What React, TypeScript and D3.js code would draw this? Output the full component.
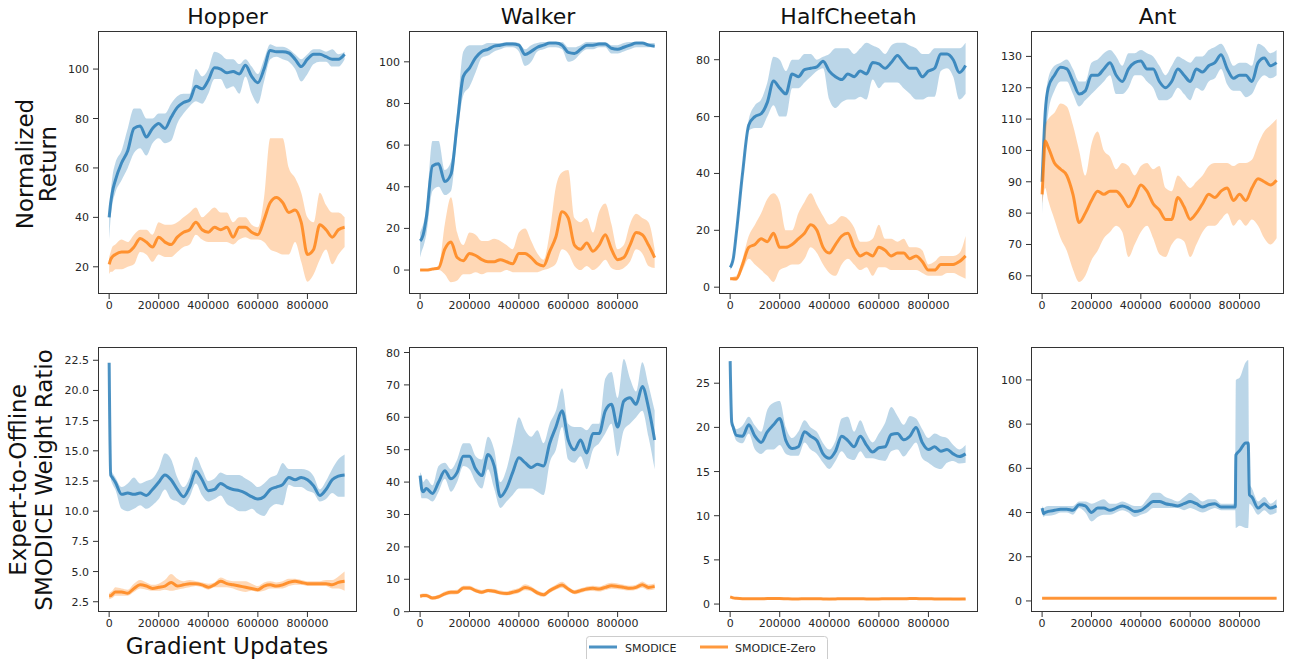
import React from 'react';
import * as d3 from 'd3';

// ---------------- data ----------------
const STEPS = [0, 6250, 12500, 25000, 50000, 75000, 100000, 125000, 150000, 175000,
  200000, 225000, 250000, 275000, 300000, 325000, 350000, 375000, 400000, 425000,
  450000, 475000, 500000, 525000, 550000, 575000, 600000, 625000, 650000, 675000,
  700000, 725000, 750000, 775000, 800000, 825000, 850000, 875000, 900000, 925000, 950000];

const ANT_W_STEPS = [0, 6250, 12500, 25000, 50000, 75000, 100000, 125000, 150000, 175000,
  200000, 225000, 250000, 275000, 300000, 325000, 350000, 375000, 400000, 425000,
  450000, 475000, 500000, 525000, 550000, 575000, 600000, 625000, 650000, 675000,
  700000, 725000, 750000, 775000, 782500, 785000, 800000, 825000, 835000, 840000,
  850000, 875000, 900000, 925000, 950000];

const X_TICKS = [0, 200000, 400000, 600000, 800000];
const TITLES = ['Hopper', 'Walker', 'HalfCheetah', 'Ant'];
const SERIES_NAMES = ['SMODICE', 'SMODICE-Zero'];

// Hopper – normalized return
const HOP_R_SM_MEAN = [40, 46, 50, 55, 62, 67, 76, 77, 72.5, 76, 78, 76, 80.5, 84.5, 86.5, 87.5, 93, 92, 95.5, 100.5, 100, 98.5, 99, 98, 101.5, 97, 94.5, 100, 107.5, 107, 107, 106.5, 104, 101, 104, 106, 106, 105, 104, 104, 106];
const HOP_R_SM_LO = [31, 40, 45, 50, 55, 60, 66, 68, 65, 70, 72, 70, 71, 78, 82, 85, 87, 86, 90, 96, 96, 92, 93, 90, 97, 90, 86, 95, 104, 105, 104, 103, 100, 95, 98, 102, 103, 103, 101, 101, 104];
const HOP_R_SM_HI = [42, 50, 56, 62, 67, 76, 84, 84, 80, 80, 82, 82, 86, 89, 90, 90, 100, 97, 100, 107, 106, 104, 104, 102, 104, 101, 98, 104, 110, 109, 109, 108, 106, 104, 106, 108, 108, 107, 108, 106, 107];
const HOP_R_Z_MEAN = [21, 23, 24, 25, 26, 26, 28, 31.5, 30, 28, 32, 30, 29, 32, 34, 35, 38, 35, 34, 36, 35, 36, 32, 36, 36, 34, 33, 39, 46, 48, 46, 42, 43, 38, 25, 27, 37, 35, 32, 35, 36];
const HOP_R_Z_LO = [17, 18, 18, 19, 19, 20, 21, 26, 25, 22, 25, 24, 24, 26, 28, 29, 33, 31, 30, 30, 30, 30, 29, 31, 32, 31, 31, 30, 27, 26, 25, 25, 30, 22, 14, 17, 23, 27, 21, 25, 28];
const HOP_R_Z_HI = [24, 26, 28, 29, 31, 30, 33, 35, 35, 33, 38, 37, 37, 38, 40, 42, 44, 40, 42, 44, 42, 42, 38, 40, 40, 37, 36, 48, 72, 72, 72, 60, 56, 50, 40, 38, 50, 45, 42, 42, 40];

// Walker – normalized return
const WAL_R_SM_MEAN = [14, 15, 17, 25, 50, 51, 42.5, 46, 70, 93, 97, 102, 105, 106, 107.5, 108, 108.5, 108.5, 108, 103.5, 105, 107, 108, 109, 109, 108, 104.5, 104, 106, 108, 108, 108.5, 108.5, 106.5, 106, 107, 108, 109, 109, 108, 107.5];
const WAL_R_SM_LO = [6, 9, 11, 17, 38, 40, 36, 38, 64, 84, 88, 95, 102, 103, 105, 106, 107, 107, 105, 98, 100, 105, 106, 107, 107, 106, 100, 101, 104, 106, 106, 107, 107, 104, 104, 105, 106, 107, 107, 107, 107];
const WAL_R_SM_HI = [18, 20, 22, 30, 62, 62, 48, 52, 76, 105, 108, 108, 108, 109, 109, 109, 109.5, 109.5, 109, 106, 108, 109, 109.5, 109.5, 109.5, 109.5, 107, 107, 108, 109.5, 109.5, 109.5, 109.5, 108, 108, 109, 109.5, 109.5, 109.5, 109, 109];
const WAL_R_Z_MEAN = [0, 0, 0, 0, 0.5, 1, 10, 13.5, 6, 4.5, 8, 7, 5, 4, 4, 5, 4, 3, 8, 8, 6, 3, 2, 9, 16, 28, 25, 12, 10, 13, 9, 12, 17, 10, 5, 6, 12, 18, 17, 12, 6];
const WAL_R_Z_LO = [-0.5, -0.5, -0.5, -0.5, 0, 0, -2, -5.8, -5, -2, -2, -1, -2, -1, -1, -1, 0, -1, -1, -1, -1, -1, 0, 1, 3, 10, 8, 2, 0, 2, 0, 2, 5, 1, 0, 1, 4, 10, 8, 2, 1];
const WAL_R_Z_HI = [0.5, 0.5, 0.5, 0.5, 1, 2, 22, 35, 18, 12, 18, 17, 14, 14, 15, 14, 12, 10, 18, 20, 14, 8, 5, 18, 40, 47, 48, 25, 23, 25, 18, 28, 32, 22, 10, 12, 22, 27, 25, 23, 10];

// HalfCheetah – normalized return
const HC_R_SM_MEAN = [7, 8, 10, 19, 40, 57, 60, 61, 65, 72.5, 70, 68, 75, 74, 76.5, 77, 77.5, 79.5, 76, 74, 73, 75, 74, 76, 75, 79, 78.5, 77, 79, 81.5, 79, 77, 77, 74, 76, 77, 82, 82, 80, 75.5, 78];
const HC_R_SM_LO = [6, 7, 9, 17, 38, 55, 56, 56, 60, 64, 60, 60, 70, 70, 72, 74, 76, 77, 66, 63, 65, 66, 66, 67, 66, 73, 70, 72, 72, 72, 70, 68, 66, 66, 67, 67, 76, 77, 74, 66, 68];
const HC_R_SM_HI = [8, 9, 11, 21, 42, 59, 64, 66, 72, 81, 80, 76, 80, 80, 82, 82, 80, 81, 82, 84, 84, 84, 82, 84, 86, 85, 84, 82, 85, 86, 86, 85, 84, 82, 82, 84, 84, 84, 84, 84, 86];
const HC_R_Z_MEAN = [3, 3, 3, 3, 8, 14, 15, 17, 16, 19, 14, 14, 15, 17, 19, 22, 20, 14, 12, 15, 18, 19, 14, 11, 12, 11, 14, 13, 11, 12, 12, 10, 11, 9, 6, 6, 8, 8, 8, 9, 11];
const HC_R_Z_LO = [2.5, 2.5, 2.3, 2.2, 6, 10, 8, 6, 4, 1.8, 6, 7, 8, 8, 10, 14, 12, 8, 5, 4, 8, 10, 8, 6, 7, 4, 7, 7, 6, 6, 6, 6, 6, 5, 4, 4, 4, 5, 5, 4, 3];
const HC_R_Z_HI = [3.5, 3.5, 3.7, 4, 10, 18, 22, 26, 31, 33, 30, 20, 20, 26, 30, 33, 29, 25, 22, 23, 25, 24, 21, 16, 16, 17, 22, 17, 17, 16, 17, 14, 14, 13, 8, 9, 11, 11, 11, 12, 18];

// Ant – normalized return
const ANT_R_SM_MEAN = [90, 102, 112, 120, 124, 126.5, 126, 122, 118, 119, 124, 124, 126, 128, 124, 122, 126, 128, 128.5, 126, 126, 122, 120, 122, 126, 124, 122, 126, 125, 127, 128, 130.5, 126, 123, 124, 124, 122, 128, 129.5, 127, 128];
const ANT_R_SM_LO = [80, 92, 102, 112, 119, 122, 122, 118, 114, 116, 118, 120, 122, 124, 118, 118, 120, 124, 124, 122, 120, 116, 116, 117, 120, 118, 116, 120, 119, 122, 123, 126, 121, 119, 119, 117, 118, 122, 124, 123, 124];
const ANT_R_SM_HI = [92, 106, 115, 123, 127, 128, 129, 126, 122, 122, 128, 129, 131, 132, 130, 127, 131, 131, 132, 131, 130, 127, 124, 127, 130, 129, 128, 130, 130, 132, 133, 134, 131, 127, 128, 128, 127, 134, 133, 131, 132];
const ANT_R_Z_MEAN = [86, 96, 103, 101, 96, 94, 92, 86, 77, 80, 84, 87, 86, 87, 87, 85, 82, 85, 89, 87, 83, 81, 78, 78, 85, 82, 78, 80, 83, 86, 85, 87, 88, 84, 86, 84, 88, 91, 90, 89, 90.5];
const ANT_R_Z_LO = [83, 86, 88, 84, 78, 72, 68, 62, 58, 60, 65, 68, 72, 74, 76, 74, 66, 70, 74, 76, 72, 67, 66, 70, 72, 71, 66, 70, 74, 76, 76, 78, 80, 76, 78, 76, 78, 76, 72, 70, 72];
const ANT_R_Z_HI = [88, 100, 108, 110, 112, 115, 114, 108, 100, 92, 102, 106, 100, 98, 94, 96, 95, 92, 95, 96, 94, 95, 88, 87, 92, 90, 88, 90, 92, 95, 96, 96, 96, 95, 96, 96, 97, 102, 106, 108, 110];

// Hopper – weight ratio
const HOP_W_SM_MEAN = [22.3, 13.0, 12.8, 12.4, 11.4, 11.5, 11.4, 11.5, 11.3, 11.8, 12.4, 13.0, 12.6, 11.8, 11.2, 12.0, 13.3, 12.6, 11.7, 11.8, 12.3, 12.0, 11.8, 11.7, 11.5, 11.2, 11.0, 11.2, 11.8, 12.0, 12.2, 12.8, 12.6, 12.8, 12.6, 12.1, 11.3, 11.8, 12.6, 12.9, 13.0];
const HOP_W_SM_LO = [21.9, 12.7, 12.3, 11.8, 10.2, 10.0, 10.2, 10.5, 10.2, 10.5, 11.0, 11.8, 11.0, 10.8, 10.5, 11.2, 12.3, 11.3, 10.8, 11.0, 11.3, 10.6, 10.3, 10.0, 10.0, 10.2, 9.8, 9.6, 10.3, 10.6, 10.5, 12.2, 12.0, 12.0, 11.7, 11.5, 10.8, 11.0, 11.5, 11.2, 11.2];
const HOP_W_SM_HI = [22.6, 13.4, 13.2, 12.8, 12.0, 12.3, 12.8, 12.3, 12.5, 12.7, 13.5, 14.8, 14.3, 12.8, 12.0, 12.8, 14.5, 13.5, 12.5, 12.7, 13.2, 13.0, 13.0, 13.0, 12.7, 12.4, 12.0, 12.3, 12.8, 13.0, 14.0, 13.5, 13.5, 13.5, 13.4, 12.9, 11.8, 12.5, 13.5, 14.3, 14.7];
const HOP_W_Z_MEAN = [3.0, 3.0, 3.1, 3.3, 3.3, 3.2, 3.6, 3.9, 3.8, 3.6, 3.7, 3.8, 4.1, 3.8, 3.9, 4.0, 4.0, 3.9, 3.7, 3.9, 4.2, 4.0, 3.9, 3.8, 3.7, 3.6, 3.5, 3.8, 3.9, 3.8, 3.9, 4.1, 4.2, 4.1, 4.0, 4.0, 4.0, 4.0, 3.9, 4.1, 4.2];
const HOP_W_Z_LO = [2.7, 2.75, 2.8, 3.0, 3.0, 3.0, 3.3, 3.6, 3.5, 3.4, 3.4, 3.5, 3.4, 3.5, 3.6, 3.7, 3.8, 3.7, 3.5, 3.7, 3.7, 3.7, 3.6, 3.4, 3.3, 3.4, 3.3, 3.4, 3.6, 3.6, 3.6, 3.8, 3.9, 3.9, 3.8, 3.8, 3.8, 3.8, 3.6, 3.6, 3.4];
const HOP_W_Z_HI = [3.2, 3.3, 3.4, 3.7, 3.6, 3.5, 4.0, 4.3, 4.1, 3.9, 4.0, 4.3, 4.8, 4.4, 4.2, 4.3, 4.2, 4.1, 4.0, 4.1, 4.5, 4.3, 4.2, 4.2, 4.2, 4.0, 3.8, 4.1, 4.2, 4.1, 4.2, 4.4, 4.4, 4.3, 4.2, 4.2, 4.2, 4.3, 4.3, 4.6, 5.0];

// Walker – weight ratio
const WAL_W_SM_MEAN = [42, 38, 37, 38, 36.5, 40, 43.5, 41, 43, 48, 48, 44, 42, 48.5, 45, 35.5, 38, 43, 47.5, 46, 44.5, 45.5, 45, 52, 57, 62, 53, 50, 53, 49, 55, 55, 62, 64, 57, 65, 66, 64, 69.5, 63, 53];
const WAL_W_SM_LO = [38, 35, 35, 35, 34, 37, 41, 37, 40, 45, 44, 40, 38, 44, 38, 32, 34, 36, 38, 38, 38, 37, 36, 46, 50, 57, 47, 46, 48, 44, 50, 52, 55, 58, 48, 56, 58, 60, 62, 54, 44];
const WAL_W_SM_HI = [43, 42, 40, 41, 39, 45, 46, 44, 47, 52, 52, 48, 47, 54, 50, 40, 44, 52, 60, 56, 54, 56, 52, 58, 62, 69, 58, 57, 57, 56, 58, 58, 72, 74, 66, 78, 72, 68, 77, 70, 62];
const WAL_W_Z_MEAN = [4.8, 4.9, 5.0, 5.0, 4.2, 4.6, 5.5, 6.0, 6.0, 7.3, 7.3, 6.5, 6.0, 6.5, 6.3, 5.8, 5.6, 6.0, 6.5, 7.5, 7.0, 5.8, 5.2, 6.5, 7.5, 8.2, 7.0, 6.0, 6.5, 7.0, 7.2, 7.0, 7.5, 8.0, 7.8, 7.5, 7.2, 7.5, 8.3, 7.5, 7.8];
const WAL_W_Z_LO = [4.2, 4.3, 4.4, 4.4, 3.7, 4.0, 4.9, 5.3, 5.4, 6.6, 6.7, 5.9, 5.4, 5.9, 5.7, 5.2, 5.0, 5.3, 5.8, 6.6, 6.2, 5.1, 4.6, 5.8, 6.8, 7.4, 6.3, 5.4, 5.8, 6.3, 6.4, 6.2, 6.7, 7.1, 6.9, 6.7, 6.5, 6.8, 7.4, 6.6, 6.9];
const WAL_W_Z_HI = [5.4, 5.5, 5.6, 5.6, 4.8, 5.2, 6.2, 6.7, 6.8, 8.0, 8.0, 7.2, 6.7, 7.1, 7.0, 6.5, 6.3, 6.8, 7.3, 8.5, 7.8, 6.6, 5.9, 7.2, 8.3, 9.2, 7.8, 6.7, 7.2, 7.8, 8.0, 7.8, 8.4, 8.9, 8.7, 8.3, 8.0, 8.3, 9.3, 8.4, 8.7];

// HalfCheetah – weight ratio
const HC_W_SM_MEAN = [27.5, 20.6, 20.0, 19.1, 19.0, 20.3, 19.0, 18.3, 19.5, 20.3, 21.0, 18.5, 17.6, 17.8, 19.5, 19.0, 18.5, 17.0, 16.5, 17.3, 19.0, 18.5, 17.8, 19.0, 18.0, 17.2, 17.7, 17.8, 19.2, 19.3, 18.6, 19.0, 20.0, 18.3, 17.5, 17.8, 17.3, 17.5, 17.0, 16.7, 17.0];
const HC_W_SM_LO = [27.3, 20.3, 19.5, 18.5, 18.2, 19.3, 17.5, 17.0, 17.5, 17.5, 18.0, 17.0, 16.8, 16.8, 18.3, 17.5, 17.0, 16.0, 15.3, 16.2, 17.3, 16.5, 16.3, 17.3, 16.5, 16.5, 16.3, 16.2, 17.3, 17.5, 16.7, 17.5, 18.3, 16.5, 16.0, 15.5, 15.3, 16.0, 16.2, 15.9, 16.0];
const HC_W_SM_HI = [27.7, 20.9, 20.4, 19.8, 20.2, 21.2, 20.2, 19.5, 22.0, 22.8, 23.0, 20.0, 18.8, 19.5, 20.8, 20.0, 19.5, 18.2, 17.5, 18.5, 21.0, 21.2, 19.5, 20.8, 19.3, 18.3, 19.3, 20.5, 22.3, 21.3, 20.3, 21.3, 21.0, 19.8, 18.8, 19.3, 19.0, 18.8, 18.0, 17.5, 18.0];
const HC_W_Z_MEAN = [0.8, 0.75, 0.7, 0.65, 0.6, 0.6, 0.6, 0.6, 0.62, 0.62, 0.62, 0.6, 0.58, 0.58, 0.6, 0.6, 0.6, 0.58, 0.56, 0.58, 0.6, 0.6, 0.6, 0.6, 0.58, 0.58, 0.58, 0.6, 0.6, 0.6, 0.6, 0.62, 0.62, 0.6, 0.6, 0.58, 0.58, 0.58, 0.56, 0.56, 0.58];
const HC_W_Z_LO = [0.68, 0.63, 0.58, 0.53, 0.48, 0.48, 0.48, 0.48, 0.5, 0.5, 0.5, 0.48, 0.46, 0.46, 0.48, 0.48, 0.48, 0.46, 0.44, 0.46, 0.48, 0.48, 0.48, 0.48, 0.46, 0.46, 0.46, 0.48, 0.48, 0.48, 0.48, 0.5, 0.5, 0.48, 0.48, 0.46, 0.46, 0.46, 0.44, 0.44, 0.46];
const HC_W_Z_HI = [0.92, 0.87, 0.82, 0.77, 0.72, 0.72, 0.72, 0.72, 0.74, 0.74, 0.74, 0.72, 0.7, 0.7, 0.72, 0.72, 0.72, 0.7, 0.68, 0.7, 0.72, 0.72, 0.72, 0.72, 0.7, 0.7, 0.7, 0.72, 0.72, 0.72, 0.72, 0.74, 0.74, 0.72, 0.72, 0.7, 0.7, 0.7, 0.68, 0.68, 0.7];

// Ant – weight ratio (own step grid, denser around the spike)
const ANT_W_SM_MEAN = [42, 39.5, 40, 40.5, 41, 41.5, 41.5, 41, 43.5, 43, 40, 42, 42, 41, 42, 43, 42, 40.5, 41, 43, 45, 45, 44, 43.5, 43, 44, 45, 44, 42.5, 43.5, 44, 42.5, 42.5, 42.5, 42.5, 66, 68, 71.5, 71.5, 48, 47, 42, 44, 42, 43];
const ANT_W_SM_LO = [40, 38, 38.5, 38.5, 39, 40, 40, 39, 42, 40, 36, 38, 39, 39, 40, 41, 40, 38, 39, 40, 42, 42, 42, 42, 42, 41, 42, 41, 40, 41, 42, 41, 41, 41, 41, 33, 34, 33, 33, 44, 43, 39, 41, 39, 40];
const ANT_W_SM_HI = [43, 42, 42.5, 43, 43, 43, 43, 43, 45, 45, 44, 45, 46, 44, 44, 45, 44, 43, 43, 46, 49, 49, 47, 46, 45, 47, 49, 47, 45, 46, 46, 44, 44, 44, 44, 100, 101, 108, 109, 53, 51, 45, 47, 44, 46];
const ANT_W_Z_MEAN = [1.2, 1.2, 1.2, 1.2, 1.2, 1.2, 1.2, 1.2, 1.2, 1.2, 1.2, 1.2, 1.2, 1.2, 1.2, 1.2, 1.2, 1.2, 1.2, 1.2, 1.2, 1.2, 1.2, 1.2, 1.2, 1.2, 1.2, 1.2, 1.2, 1.2, 1.2, 1.2, 1.2, 1.2, 1.2, 1.2, 1.2, 1.2, 1.2, 1.2, 1.2, 1.2, 1.2, 1.2, 1.2];
const ANT_W_Z_LO = [1.0, 1.0, 1.0, 1.0, 1.0, 1.0, 1.0, 1.0, 1.0, 1.0, 1.0, 1.0, 1.0, 1.0, 1.0, 1.0, 1.0, 1.0, 1.0, 1.0, 1.0, 1.0, 1.0, 1.0, 1.0, 1.0, 1.0, 1.0, 1.0, 1.0, 1.0, 1.0, 1.0, 1.0, 1.0, 1.0, 1.0, 1.0, 1.0, 1.0, 1.0, 1.0, 1.0, 1.0, 1.0];
const ANT_W_Z_HI = [1.4, 1.4, 1.4, 1.4, 1.4, 1.4, 1.4, 1.4, 1.4, 1.4, 1.4, 1.4, 1.4, 1.4, 1.4, 1.4, 1.4, 1.4, 1.4, 1.4, 1.4, 1.4, 1.4, 1.4, 1.4, 1.4, 1.4, 1.4, 1.4, 1.4, 1.4, 1.4, 1.4, 1.4, 1.4, 1.4, 1.4, 1.4, 1.4, 1.4, 1.4, 1.4, 1.4, 1.4, 1.4];

// axis ranges and ticks
const Y_DOMAINS: [number, number][] = [[9, 115.4], [-11.5, 114.8], [-2.4, 90.1], [54.2, 138.1], [1.65, 23.6], [-0.1, 81.7], [-0.9, 29.1], [-5, 114.9]];
const Y_TICKS = [
  [20, 40, 60, 80, 100],
  [0, 20, 40, 60, 80, 100],
  [0, 20, 40, 60, 80],
  [60, 70, 80, 90, 100, 110, 120, 130],
  [2.5, 5, 7.5, 10, 12.5, 15, 17.5, 20, 22.5],
  [0, 10, 20, 30, 40, 50, 60, 70, 80],
  [0, 5, 10, 15, 20, 25],
  [0, 20, 40, 60, 80, 100],
];
const X_MAX = [1000000, 1000000, 1000000, 980000];
const X_MIN = -45000;

// ---------------- layout ----------------
const COLS = [
  { left: 98, width: 259 },
  { left: 409, width: 258 },
  { left: 719, width: 259 },
  { left: 1031, width: 253 },
];
const ROWS = [
  { top: 31, bottom: 294 },
  { top: 347, bottom: 612 },
];
const BLUE = '#1f77b4';
const ORANGE = '#ff7f0e';
const FONT = "'DejaVu Sans', 'Liberation Sans', sans-serif";
const AX = '#333333';

type Series = { steps: number[]; mean: number[]; lo: number[]; hi: number[] };
const S = (steps: number[], mean: number[], lo: number[], hi: number[]): Series => ({ steps, mean, lo, hi });

const PANELS = [
  { sm: S(STEPS, HOP_R_SM_MEAN, HOP_R_SM_LO, HOP_R_SM_HI), z: S(STEPS, HOP_R_Z_MEAN, HOP_R_Z_LO, HOP_R_Z_HI) },
  { sm: S(STEPS, WAL_R_SM_MEAN, WAL_R_SM_LO, WAL_R_SM_HI), z: S(STEPS, WAL_R_Z_MEAN, WAL_R_Z_LO, WAL_R_Z_HI) },
  { sm: S(STEPS, HC_R_SM_MEAN, HC_R_SM_LO, HC_R_SM_HI), z: S(STEPS, HC_R_Z_MEAN, HC_R_Z_LO, HC_R_Z_HI) },
  { sm: S(STEPS, ANT_R_SM_MEAN, ANT_R_SM_LO, ANT_R_SM_HI), z: S(STEPS, ANT_R_Z_MEAN, ANT_R_Z_LO, ANT_R_Z_HI) },
  { sm: S(STEPS, HOP_W_SM_MEAN, HOP_W_SM_LO, HOP_W_SM_HI), z: S(STEPS, HOP_W_Z_MEAN, HOP_W_Z_LO, HOP_W_Z_HI) },
  { sm: S(STEPS, WAL_W_SM_MEAN, WAL_W_SM_LO, WAL_W_SM_HI), z: S(STEPS, WAL_W_Z_MEAN, WAL_W_Z_LO, WAL_W_Z_HI) },
  { sm: S(STEPS, HC_W_SM_MEAN, HC_W_SM_LO, HC_W_SM_HI), z: S(STEPS, HC_W_Z_MEAN, HC_W_Z_LO, HC_W_Z_HI) },
  { sm: S(ANT_W_STEPS, ANT_W_SM_MEAN, ANT_W_SM_LO, ANT_W_SM_HI), z: S(ANT_W_STEPS, ANT_W_Z_MEAN, ANT_W_Z_LO, ANT_W_Z_HI) },
];

function Panel({ idx }: { idx: number }) {
  const row = Math.floor(idx / 4);
  const col = idx % 4;
  const c = COLS[col];
  const r = ROWS[row];
  const x = d3.scaleLinear().domain([X_MIN, X_MAX[col]]).range([c.left, c.left + c.width]);
  const y = d3.scaleLinear().domain(Y_DOMAINS[idx]).range([r.bottom, r.top]);
  const p = PANELS[idx];
  const areaOf = (s: Series) =>
    d3.area<number>()
      .curve(d3.curveMonotoneX)
      .x((_, i) => x(s.steps[i]))
      .y0((_, i) => y(s.lo[i]))
      .y1((_, i) => y(s.hi[i]))(s.mean) || '';
  const lineOf = (s: Series) =>
    d3.line<number>()
      .curve(d3.curveMonotoneX)
      .x((_, i) => x(s.steps[i]))
      .y((d) => y(d))(s.mean) || '';
  const fmt = idx === 4 ? d3.format('.1f') : d3.format('d');
  const clipId = `clip-${idx}`;
  return (
    <g>
      <defs>
        <clipPath id={clipId}>
          <rect x={c.left} y={r.top} width={c.width} height={r.bottom - r.top} />
        </clipPath>
      </defs>
      <g clipPath={`url(#${clipId})`}>
        <path d={areaOf(p.sm)} fill={BLUE} fillOpacity={0.3} stroke="none" />
        <path d={lineOf(p.sm)} fill="none" stroke={BLUE} strokeOpacity={0.8} strokeWidth={3} strokeLinejoin="round" />
        <path d={areaOf(p.z)} fill={ORANGE} fillOpacity={0.3} stroke="none" />
        <path d={lineOf(p.z)} fill="none" stroke={ORANGE} strokeOpacity={0.8} strokeWidth={3} strokeLinejoin="round" />
      </g>
      <rect x={c.left + 0.5} y={r.top + 0.5} width={c.width - 1} height={r.bottom - r.top - 1}
        fill="none" stroke={AX} strokeWidth={1} />
      {X_TICKS.map((t) => (
        <g key={`x${t}`}>
          <line x1={x(t)} x2={x(t)} y1={r.bottom} y2={r.bottom + 5} stroke={AX} strokeWidth={1} />
          <text x={x(t)} y={r.bottom + 15} textAnchor="middle" fontSize={11} fontFamily={FONT} fill="#262626">{t}</text>
        </g>
      ))}
      {Y_TICKS[idx].map((t) => (
        <g key={`y${t}`}>
          <line x1={c.left - 5} x2={c.left} y1={y(t)} y2={y(t)} stroke={AX} strokeWidth={1} />
          <text x={c.left - 9} y={y(t) + 4} textAnchor="end" fontSize={11} fontFamily={FONT} fill="#262626">{fmt(t)}</text>
        </g>
      ))}
      {row === 0 && (
        <text x={c.left + c.width / 2} y={24} textAnchor="middle" fontSize={22} fontFamily={FONT} fill="#111">{TITLES[col]}</text>
      )}
    </g>
  );
}

function YLabel({ lines, xs, cy }: { lines: string[]; xs: number[]; cy: number }) {
  return (
    <g>
      {lines.map((l, i) => (
        <text key={l} transform={`translate(${xs[i]},${cy}) rotate(-90)`} textAnchor="middle"
          fontSize={23} fontFamily={FONT} fill="#111">{l}</text>
      ))}
    </g>
  );
}

export default function App() {
  return (
    <svg width={1290} height={659} style={{ position: 'absolute', left: 0, top: 0, background: '#fff' }}>
      <rect x={0} y={0} width={1290} height={659} fill="#fff" />
      {PANELS.map((_, i) => <Panel key={i} idx={i} />)}
      <YLabel lines={['Normalized', 'Return']} xs={[33, 56]} cy={164} />
      <YLabel lines={['Expert-to-Offline', 'SMODICE Weight Ratio']} xs={[26, 51.5]} cy={480} />
      <text x={227} y={654} textAnchor="middle" fontSize={23} fontFamily={FONT} fill="#111">Gradient Updates</text>
      <g>
        <rect x={586.5} y={636.5} width={241} height={30} rx={3} fill="#fff" fillOpacity={0.8} stroke="#cccccc" strokeWidth={1} />
        <line x1={589} x2={617} y1={647} y2={647} stroke={BLUE} strokeOpacity={0.8} strokeWidth={3} />
        <text x={625} y={651.5} fontSize={11} fontFamily={FONT} fill="#262626">{SERIES_NAMES[0]}</text>
        <line x1={700} x2={728} y1={647} y2={647} stroke={ORANGE} strokeOpacity={0.8} strokeWidth={3} />
        <text x={735} y={651.5} fontSize={11} fontFamily={FONT} fill="#262626">{SERIES_NAMES[1]}</text>
      </g>
    </svg>
  );
}
